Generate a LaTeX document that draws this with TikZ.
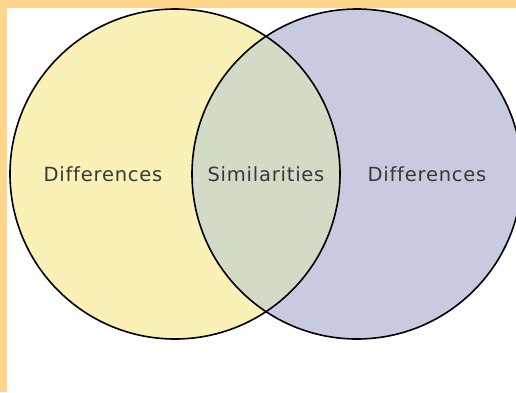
\documentclass[tikz,border=0pt]{standalone}
\usepackage{fontspec}
\setsansfont{DejaVu Sans}[LetterSpace=4, Ligatures=NoCommon]
\definecolor{frameorange}{HTML}{FDD68C}
\definecolor{leftfill}{HTML}{FBF0B6}
\definecolor{rightfill}{HTML}{C8CBDF}
\definecolor{lensfill}{HTML}{D2DBC6}
\definecolor{labelgray}{HTML}{383838}
\tikzset{
  setcircle/.style={circle, minimum size=330pt, inner sep=0pt, outer sep=0pt},
  outline/.style={draw=black, line width=1.6pt},
  label/.style={font=\sffamily\fontsize{19.5}{19.5}\selectfont, text=labelgray, inner sep=0pt}
}
\begin{document}
\begin{tikzpicture}[x=1pt,y=1pt]
\useasboundingbox (0,0) rectangle (516,392);
\begin{scope}
\clip (0,0) rectangle (516,392);
\fill[white] (0,0) rectangle (516,392);
\fill[frameorange] (0,0) rectangle (7,392);
\fill[frameorange] (0,384) rectangle (516,392);
\node[setcircle, fill=leftfill] (A) at (175,218) {};
\node[setcircle, fill=rightfill] (B) at (357,218) {};
\begin{scope}
\clip (175,218) circle (165);
\fill[lensfill] (357,218) circle (165);
\end{scope}
\draw[outline] (A.center) circle (165);
\draw[outline] (B.center) circle (165);
\end{scope}
\node[label] (dl) at (103,218) {Differences};
\node[label] (sm) at (266,218) {Similarities};
\node[label] (dr) at (427,218) {Differences};
\end{tikzpicture}
\end{document}
